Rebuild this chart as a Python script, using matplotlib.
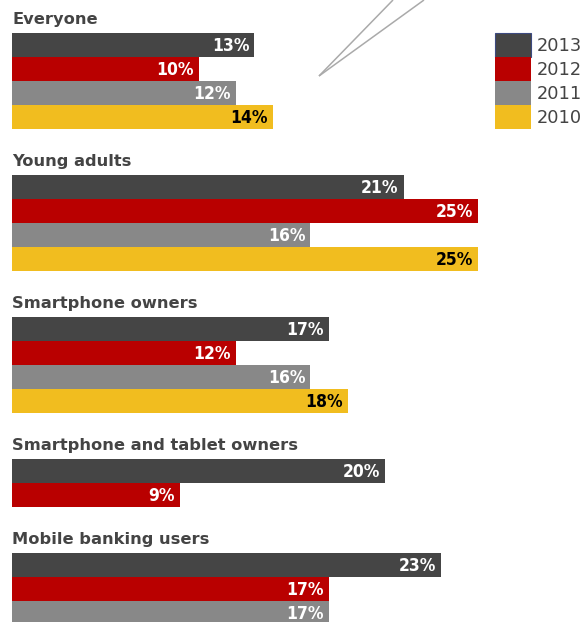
import matplotlib
matplotlib.use("Agg")
import matplotlib.pyplot as plt
from matplotlib.patches import Rectangle

groups = ["Everyone", "Young adults", "Smartphone owners",
          "Smartphone and tablet owners", "Mobile banking users"]
years = ["2013", "2012", "2011", "2010"]
everyone = [13, 10, 12, 14]
young_adults = [21, 25, 16, 25]
smartphone_owners = [17, 12, 16, 18]
smartphone_tablet_owners = [20, 9]
mobile_banking_users = [23, 17, 17]
group_values = [everyone, young_adults, smartphone_owners,
                smartphone_tablet_owners, mobile_banking_users]

colors = ["#454545", "#b90000", "#888888", "#f1bd1f"]
label_colors = ["white", "white", "white", "black"]

W, H = 585, 622
fig = plt.figure(figsize=(W / 100, H / 100), dpi=100)
fig.patch.set_facecolor("white")

px_per_pct = 18.65
x0 = 12
ax = fig.add_axes([0, 0, 1, 1])
ax.set_xlim(-x0 / px_per_pct, (W - x0) / px_per_pct)
ax.set_ylim(H, 0)
ax.axis("off")

bar_h = 24
gap = 46
top = 33
for name, vals in zip(groups, group_values):
    ax.text(0, top - 9, name, fontsize=11.7, fontweight="bold", color="#444444",
            ha="left", va="baseline", family="DejaVu Sans")
    for i, v in enumerate(vals):
        y = top + i * bar_h
        ax.barh(y, v, height=bar_h, align="edge", left=0, color=colors[i],
                edgecolor="none")
        ax.text(v - 5 / px_per_pct, y + bar_h / 2 + 1, f"{v}%", ha="right",
                va="center", fontsize=12.5, color=label_colors[i],
                family="DejaVu Sans", fontstretch="condensed",
                fontweight="semibold")
    top += len(vals) * bar_h + gap

# overlay in pixel coordinates for legend and pointer lines
ov = fig.add_axes([0, 0, 1, 1])
ov.set_xlim(0, W)
ov.set_ylim(H, 0)
ov.axis("off")
ov.patch.set_alpha(0)

for i, (yr, c) in enumerate(zip(years, colors)):
    y = 33 + i * bar_h
    ov.add_patch(Rectangle((495, y), 36, bar_h, facecolor=c,
                           edgecolor="#3d4a80" if i == 0 else "none", lw=0.8))
    ov.text(537, y + bar_h / 2 + 1, yr, ha="left", va="center", fontsize=12.8,
            color="#444444", family="DejaVu Sans")

ov.plot([319, 393], [76, 0], color="#aaaaaa", lw=1.1, solid_capstyle="butt")
ov.plot([319, 424], [76, 0], color="#aaaaaa", lw=1.1, solid_capstyle="butt")

fig.savefig("out.png", dpi=100, facecolor="white")
